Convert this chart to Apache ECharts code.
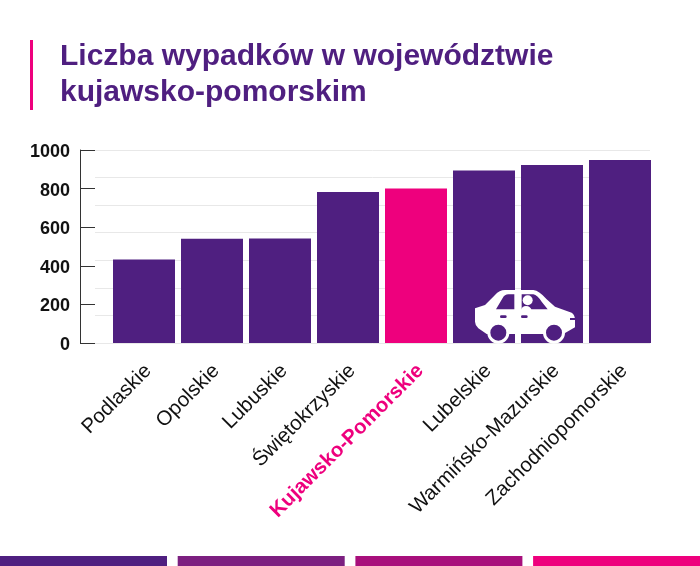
<!DOCTYPE html>
<html>
<head>
<meta charset="utf-8">
<style>html,body{margin:0;padding:0;background:#fff}#main{width:700px;height:566px}</style>
<script src="https://cdn.jsdelivr.net/npm/echarts@6/dist/echarts.min.js"></script>
</head>
<body>
<div id="main"></div>
<script>
const titleText = 'Liczba wypadków w województwie\nkujawsko-pomorskim';
const regions = ['Podlaskie', 'Opolskie', 'Lubuskie', 'Świętokrzyskie', 'Kujawsko-Pomorskie', 'Lubelskie', 'Warmińsko-Mazurskie', 'Zachodniopomorskie'];
const accidents = [433, 540, 541, 782, 800, 894, 922, 948];
const highlighted = 'Kujawsko-Pomorskie';
const stripeColors = ['#4f1f80', '#7c1f80', '#a80f7c', '#ee007d'];

const purple = '#4f1f80';
const pink = '#ee007d';
const font = '"Liberation Sans", Arial, sans-serif';

// the graphic component has no plain path type, so register the car parts as shapes
function carPart(name, d) {
    echarts.graphic.registerShape(name, echarts.graphic.extendPath(d, {}));
}
carPart('carBody', 'M105 115 L135 105 L165 75 Q178 60 195 60 L280 60 Q298 62 320 88 L345 110 L395 128 Q405 135 405 150 L405 172 L370 192 L140 192 L115 175 Q105 165 105 155 Z');
carPart('carWindowFront', 'M168 118 L188 84 Q194 73 205 73 L223 73 L223 118 Z');
carPart('carWindowRear', 'M245 73 L280 73 Q292 76 305 95 L323 118 L245 118 Z');
carPart('carDriver', 'M243 122 Q245 108 258 108 Q272 108 275 122 Z');

// car drawn in 3x units, then scaled down on the group
const carGraphic = {
    type: 'group',
    x: 440,
    y: 270,
    scaleX: 1 / 3,
    scaleY: 1 / 3,
    children: [
        { type: 'carBody', z: 100, style: { fill: '#fff' } },
        { type: 'carWindowFront', z: 101, style: { fill: purple } },
        { type: 'carWindowRear', z: 101, style: { fill: purple } },
        { type: 'circle', z: 102, shape: { cx: 263, cy: 91, r: 15 }, style: { fill: '#fff' } },
        { type: 'carDriver', z: 102, style: { fill: '#fff' } },
        { type: 'rect', z: 102, shape: { x: 180, y: 136, width: 20, height: 8, r: 4 }, style: { fill: purple } },
        { type: 'rect', z: 102, shape: { x: 243, y: 136, width: 20, height: 8, r: 4 }, style: { fill: purple } },
        { type: 'rect', z: 102, shape: { x: 390, y: 144, width: 15, height: 6 }, style: { fill: purple } },
        { type: 'circle', z: 102, shape: { cx: 175, cy: 188, r: 28.5 }, style: { fill: purple, stroke: '#fff', lineWidth: 9 } },
        { type: 'circle', z: 102, shape: { cx: 342, cy: 188, r: 28.5 }, style: { fill: purple, stroke: '#fff', lineWidth: 9 } }
    ]
};

let stripes = stripeColors.map(function (c, i) {
    return {
        type: 'rect',
        shape: { x: i * 177.7, y: 556, width: 167, height: 10 },
        style: { fill: c }
    };
});

let option = {
    animation: false,
    backgroundColor: '#fff',
    title: {
        text: titleText,
        left: 55,
        top: 34,
        textStyle: { color: purple, fontFamily: font, fontWeight: 'bold', fontSize: 30, lineHeight: 36 }
    },
    grid: [
        { left: 110, top: 150, width: 544, height: 193 },
        { left: 95, top: 150, width: 555, height: 193 }
    ],
    xAxis: [
        {
            type: 'category',
            gridIndex: 0,
            data: regions.map(function (r) {
                return r === highlighted
                    ? { value: r, textStyle: { color: pink, fontWeight: 'bold' } }
                    : r;
            }),
            axisLine: { show: false },
            axisTick: { show: false },
            axisLabel: {
                interval: 0,
                rotate: 45,
                margin: 29,
                padding: [0, -6, 0, 0],
                color: '#111',
                fontFamily: font,
                fontSize: 20.5
            }
        },
        { type: 'value', gridIndex: 1, show: false, min: 0, max: 1 }
    ],
    yAxis: [
        {
            type: 'value',
            gridIndex: 0,
            min: 0,
            max: 1000,
            interval: 200,
            offset: 30,
            axisLine: { show: true, lineStyle: { color: '#333', width: 1 } },
            axisTick: { show: true, inside: true, length: 15, lineStyle: { color: '#333', width: 1 } },
            axisLabel: {
                formatter: function (v) { return String(v); },
                color: '#111',
                fontFamily: font,
                fontWeight: 'bold',
                fontSize: 18,
                margin: 10,
                verticalAlign: 'top',
                padding: [-7, 0, 0, 0]
            },
            splitLine: { show: false }
        },
        {
            // light rules do not follow the labelled ticks
            type: 'value',
            gridIndex: 1,
            min: 0,
            max: 7,
            interval: 1,
            axisLine: { show: false },
            axisTick: { show: false },
            axisLabel: { show: false },
            splitLine: { show: true, lineStyle: { color: '#e8e8e8', width: 1 } }
        }
    ],
    series: [{
        type: 'bar',
        xAxisIndex: 0,
        yAxisIndex: 0,
        barWidth: 62,
        z: 5,
        data: regions.map(function (r, i) {
            return {
                value: accidents[i],
                itemStyle: { color: r === highlighted ? pink : purple }
            };
        })
    }],
    graphic: [
        { type: 'rect', shape: { x: 30, y: 40, width: 3, height: 70 }, style: { fill: pink } },
        carGraphic
    ].concat(stripes)
};

let myChart = echarts.init(document.getElementById('main'));
myChart.setOption(option);
</script>
</body>
</html>
